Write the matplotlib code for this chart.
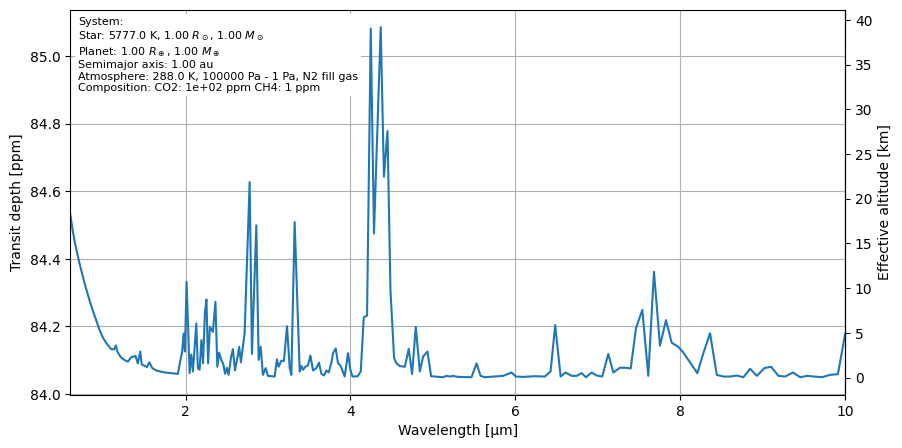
import matplotlib
matplotlib.use("Agg")
import matplotlib.pyplot as plt

# transmission spectrum
wavelength = [
    0.600, 0.630, 0.660, 0.713, 0.775, 0.835, 0.875, 0.956, 1.000, 1.041, 1.098,
    1.132, 1.154, 1.174, 1.215, 1.259, 1.300, 1.341, 1.393, 1.421, 1.450,
    1.468, 1.530, 1.561, 1.596, 1.644, 1.745, 1.907, 1.933, 1.958, 1.976,
    1.992, 2.012, 2.049, 2.069, 2.089, 2.130, 2.149, 2.170, 2.192, 2.212,
    2.234, 2.253, 2.273, 2.295, 2.331, 2.362, 2.385, 2.407, 2.437, 2.455,
    2.480, 2.501, 2.522, 2.552, 2.574, 2.599, 2.635, 2.650, 2.671, 2.716,
    2.777, 2.805, 2.858, 2.886, 2.911, 2.938, 2.971, 2.999, 3.080, 3.108,
    3.129, 3.162, 3.193, 3.230, 3.263, 3.283, 3.323, 3.384, 3.405, 3.424,
    3.453, 3.485, 3.514, 3.546, 3.587, 3.618, 3.647, 3.679, 3.708, 3.736,
    3.769, 3.788, 3.821, 3.849, 3.882, 3.930, 3.970, 3.999, 4.024, 4.088,
    4.125, 4.161, 4.201, 4.246, 4.285, 4.367, 4.406, 4.449, 4.485, 4.529,
    4.558, 4.598, 4.659, 4.707, 4.747, 4.792, 4.841, 4.881, 4.934, 4.978,
    5.124, 5.165, 5.205, 5.245, 5.302, 5.468, 5.529, 5.578, 5.630, 5.852,
    5.954, 6.006, 6.091, 6.176, 6.237, 6.358, 6.427, 6.483, 6.549, 6.609,
    6.682, 6.743, 6.804, 6.856, 6.925, 6.986, 7.054, 7.127, 7.188, 7.269,
    7.330, 7.399, 7.463, 7.540, 7.612, 7.681, 7.754, 7.827, 7.896, 7.976,
    8.037, 8.207, 8.280, 8.361, 8.443, 8.523, 8.604, 8.686, 8.766, 8.847,
    8.929, 9.021, 9.102, 9.191, 9.272, 9.366, 9.454, 9.536, 9.718, 9.819,
    9.912, 10.000,
]

depth_ppm = [
    84.534, 84.485, 84.445, 84.387, 84.328, 84.277, 84.247, 84.190, 84.166, 84.150, 84.133,
    84.132, 84.144, 84.125, 84.109, 84.101, 84.096, 84.109, 84.113, 84.091, 84.126,
    84.088, 84.080, 84.094, 84.077, 84.070, 84.064, 84.060, 84.095, 84.125, 84.179,
    84.126, 84.332, 84.062, 84.117, 84.067, 84.209, 84.077, 84.072, 84.160, 84.091,
    84.239, 84.280, 84.091, 84.199, 84.184, 84.273, 84.081, 84.123, 84.098, 84.091,
    84.060, 84.078, 84.057, 84.110, 84.133, 84.070, 84.116, 84.140, 84.094, 84.180,
    84.627, 84.119, 84.499, 84.101, 84.140, 84.057, 84.077, 84.054, 84.052, 84.103,
    84.081, 84.099, 84.098, 84.201, 84.077, 84.057, 84.509, 84.067, 84.083, 84.072,
    84.081, 84.085, 84.114, 84.070, 84.077, 84.093, 84.060, 84.055, 84.070, 84.064,
    84.093, 84.121, 84.135, 84.091, 84.083, 84.052, 84.121, 84.072, 84.052, 84.053,
    84.067, 84.227, 84.232, 85.081, 84.475, 85.085, 84.643, 84.778, 84.308, 84.107,
    84.091, 84.083, 84.081, 84.134, 84.059, 84.199, 84.067, 84.111, 84.126, 84.053,
    84.050, 84.054, 84.052, 84.054, 84.051, 84.050, 84.091, 84.054, 84.050, 84.054,
    84.064, 84.052, 84.051, 84.052, 84.053, 84.052, 84.067, 84.204, 84.052, 84.064,
    84.054, 84.054, 84.062, 84.050, 84.064, 84.055, 84.052, 84.119, 84.064, 84.078,
    84.078, 84.076, 84.195, 84.249, 84.054, 84.362, 84.143, 84.219, 84.152, 84.140,
    84.123, 84.062, 84.121, 84.180, 84.057, 84.052, 84.052, 84.055, 84.050, 84.075,
    84.054, 84.077, 84.081, 84.054, 84.052, 84.064, 84.050, 84.054, 84.050, 84.057,
    84.059, 84.178,
]

# depth <-> effective altitude (linear)
DEPTH_AT_ZERO_KM = 84.049
PPM_PER_KM = 0.02645

INFO = ("System:\n"
        "Star: 5777.0 K, 1.00 $R_\\odot$, 1.00 $M_\\odot$\n"
        "Planet: 1.00 $R_\\oplus$, 1.00 $M_\\oplus$\n"
        "Semimajor axis: 1.00 au\n"
        "Atmosphere: 288.0 K, 100000 Pa - 1 Pa, N2 fill gas\n"
        "Composition: CO2: 1e+02 ppm CH4: 1 ppm")


def to_km(d):
    return (d - DEPTH_AT_ZERO_KM) / PPM_PER_KM


def to_ppm(z):
    return z * PPM_PER_KM + DEPTH_AT_ZERO_KM


def main():
    fig, ax = plt.subplots(figsize=(10, 5), dpi=100)
    ax.plot(wavelength, depth_ppm, color="C0")
    ax.set_xlim(wavelength[0], wavelength[-1])
    ax.set_xlabel("Wavelength [µm]")
    ax.set_ylabel("Transit depth [ppm]")
    ax.grid(True)

    sec = ax.secondary_yaxis("right", functions=(to_km, to_ppm))
    sec.set_ylabel("Effective altitude [km]")

    ax.text(0.01, 0.982, INFO, transform=ax.transAxes, fontsize=8,
            ha="left", va="top",
            bbox=dict(facecolor="white", edgecolor="none", pad=2))

    fig.savefig("out.png", dpi=100, bbox_inches="tight")
    plt.close(fig)


if __name__ == "__main__":
    main()
